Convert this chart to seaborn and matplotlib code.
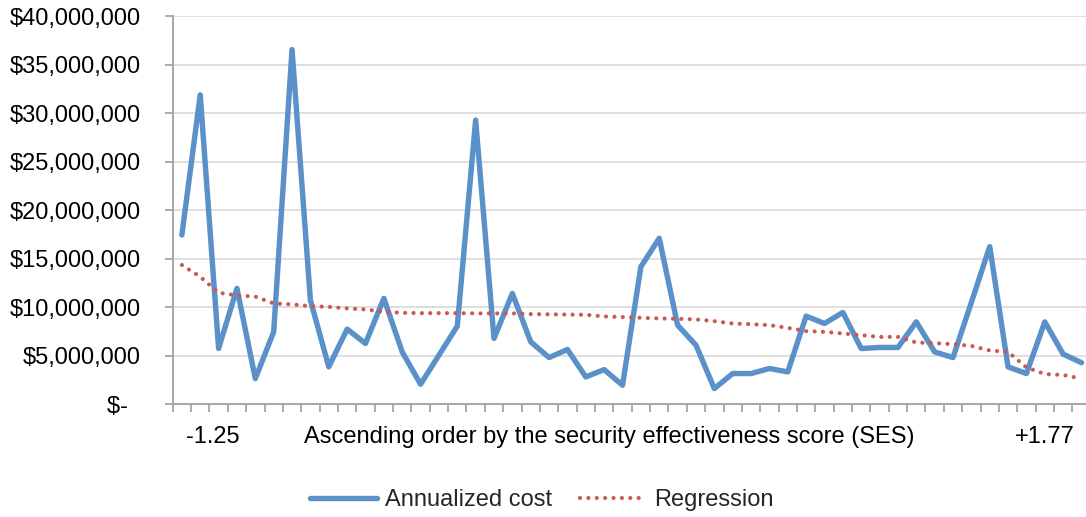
import numpy as np
import pandas as pd
import matplotlib
matplotlib.use("Agg")
import matplotlib.pyplot as plt
from matplotlib.ticker import FuncFormatter, FixedLocator
import seaborn as sns

# ---- data ----
annualized_cost_m = [17.46, 31.9, 5.75, 11.95, 2.65, 7.47, 36.57, 10.74, 3.86, 7.75,
                     6.27, 10.92, 5.4, 2.07, 5.06, 8.06, 29.3, 6.79, 11.43, 6.44,
                     4.82, 5.65, 2.82, 3.58, 1.96, 14.18, 17.12, 8.16, 6.1, 1.62,
                     3.17, 3.17, 3.69, 3.34, 9.09, 8.33, 9.47, 5.75, 5.86, 5.86,
                     8.5, 5.4, 4.82, 10.5, 16.25, 3.86, 3.17, 8.5, 5.17, 4.29]
regression_m = [14.36, 13.15, 11.5, 11.23, 11.1, 10.4, 10.3, 10.12, 10.05, 9.88,
                9.78, 9.54, 9.43, 9.4, 9.4, 9.4, 9.37, 9.37, 9.37, 9.3,
                9.28, 9.25, 9.23, 9.06, 8.99, 8.92, 8.85, 8.82, 8.75, 8.57,
                8.33, 8.26, 8.16, 7.88, 7.54, 7.47, 7.3, 7.13, 6.95, 6.95,
                6.37, 6.3, 6.2, 6.02, 5.55, 5.4, 3.8, 3.12, 3.02, 2.65]
x_tick_labels = ["-1.25", "Ascending order by the security effectiveness score (SES)", "+1.77"]
y_ticks = [0, 5e6, 10e6, 15e6, 20e6, 25e6, 30e6, 35e6, 40e6]
series_names = ["Annualized cost", "Regression"]

order = np.arange(len(annualized_cost_m))
df = pd.DataFrame({
    "order": order,
    "cost": np.array(annualized_cost_m) * 1e6,
    "reg": np.array(regression_m) * 1e6,
})

sns.set_theme(style="white")
plt.rcParams["font.family"] = ["Liberation Sans", "DejaVu Sans"]
FS = 17
plt.rcParams["font.size"] = FS

W, H = 1086, 517
fig = plt.figure(figsize=(W / 100, H / 100), dpi=100)
ax = fig.add_axes([172.7 / W, (H - 404.3) / H, 918 / W, 388 / H])

blue = "#5B91C9"
red = "#CB5852"

sns.lineplot(data=df, x="order", y="cost", ax=ax, color=blue, linewidth=3.9,
             label=series_names[0], solid_joinstyle="round", solid_capstyle="round",
             legend=False)
sns.lineplot(data=df, x="order", y="reg", ax=ax, color=red, linewidth=3.0,
             linestyle=(0, (0.01, 2.0)), dash_capstyle="round",
             label=series_names[1], legend=False)

ax.set_xlim(-0.5, 49.5)
ax.set_ylim(0, 40e6)

# y axis
ax.set_yticks(y_ticks)
ax.yaxis.set_major_formatter(FuncFormatter(lambda v, p: "$-  " if v == 0 else f"${v:,.0f}"))
ax.tick_params(axis="y", which="major", left=True, length=6, width=1.3,
               color="#A6A6A6", pad=17, labelsize=FS, labelcolor="black")
ax.grid(axis="y", color="#D9D9D9", linewidth=1.2)
ax.grid(axis="x", visible=False)

# x axis
ax.xaxis.set_major_locator(FixedLocator([1.7, 23.3, 47.0]))
ax.set_xticklabels(x_tick_labels)
ax.xaxis.set_minor_locator(FixedLocator(np.arange(-0.5, 50, 1.0)))
ax.tick_params(axis="x", which="major", bottom=True, length=0, pad=15.5,
               labelsize=FS, labelcolor="black")
ax.tick_params(axis="x", which="minor", bottom=True, length=6, width=1.3,
               color="#A6A6A6")
ax.set_xlabel("")
ax.set_ylabel("")

for s in ["top", "right"]:
    ax.spines[s].set_visible(False)
for s in ["left", "bottom"]:
    ax.spines[s].set_color("#A6A6A6")
    ax.spines[s].set_linewidth(1.4)

handles = ax.get_lines()[:2]
fig.legend(handles, series_names, loc="center", bbox_to_anchor=(542 / W, 1 - 500 / H),
           ncol=2, frameon=False, fontsize=FS, handlelength=2.85,
           handletextpad=0.3, columnspacing=1.2)

fig.savefig("out.png", dpi=100)
